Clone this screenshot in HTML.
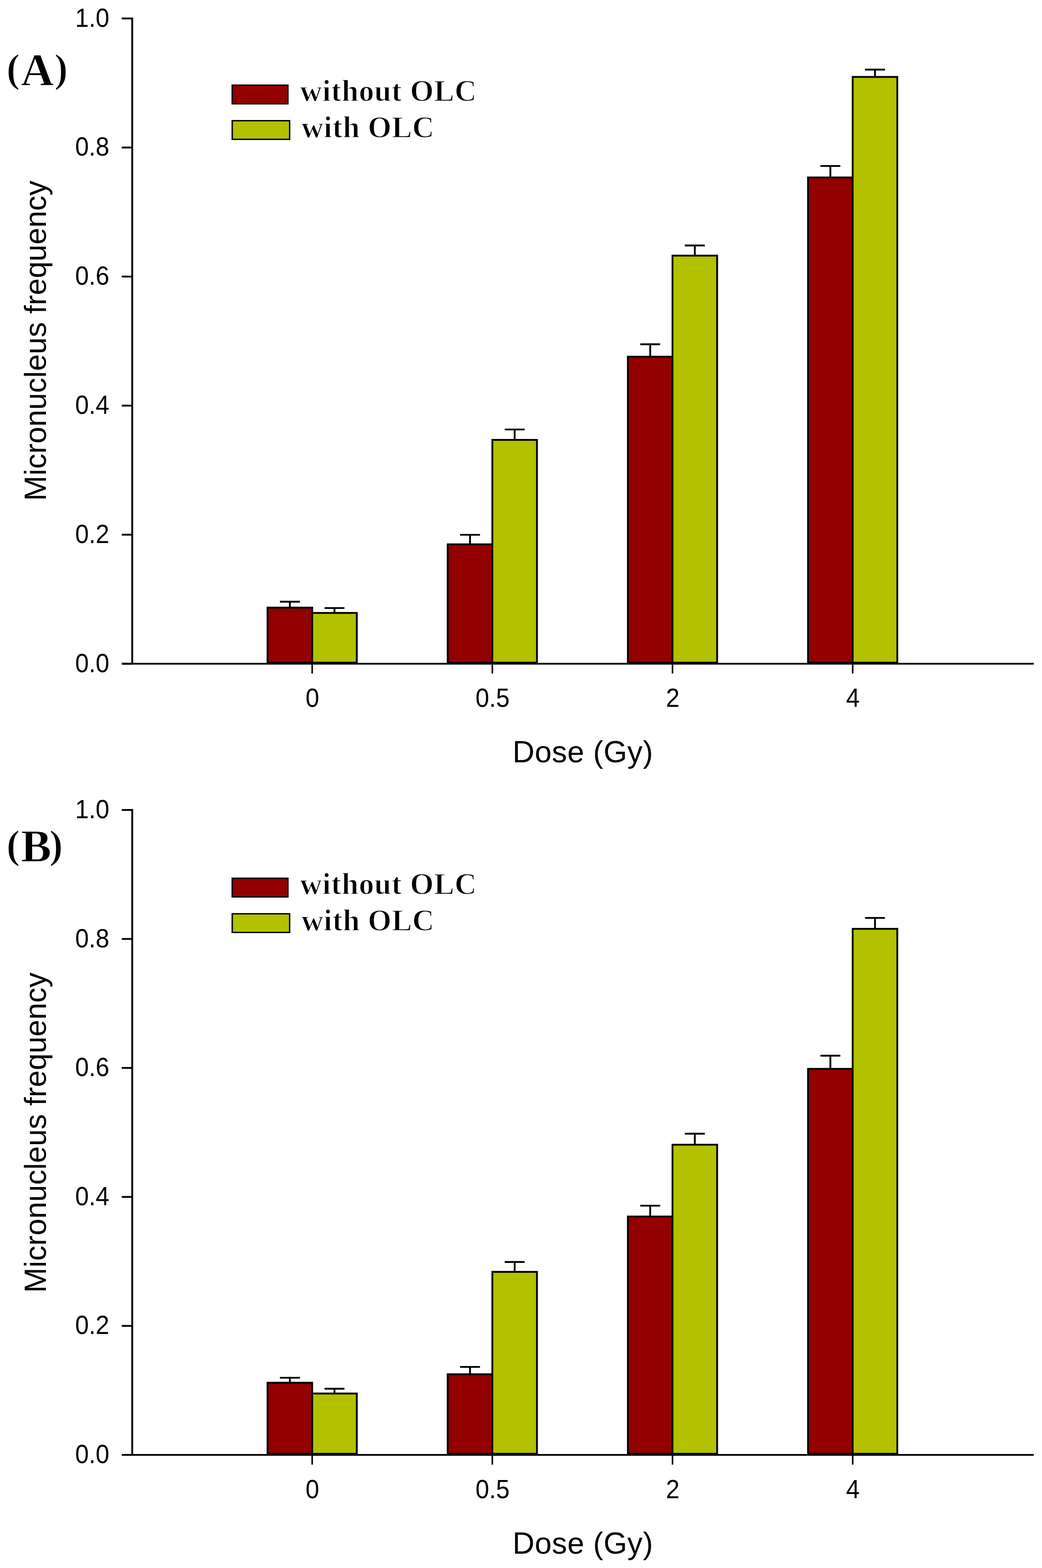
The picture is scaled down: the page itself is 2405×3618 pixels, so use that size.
<!DOCTYPE html>
<html><head><meta charset="utf-8"><title>Micronucleus frequency vs Dose</title>
<style>
html,body{margin:0;padding:0;background:#fff;}
body{width:2405px;height:3618px;overflow:hidden;}
svg{display:block;}
.tk{font-family:"Liberation Sans",Arial,sans-serif;font-size:61px;fill:#000;}
.ax{font-family:"Liberation Sans",Arial,sans-serif;font-size:70px;fill:#000;}
.pl{font-family:"Liberation Serif","Times New Roman",serif;font-weight:bold;font-size:106px;fill:#000;stroke:#fff;stroke-width:1.6px;}
.pp{font-size:93px;}
.lg{font-family:"Liberation Serif","Times New Roman",serif;font-weight:bold;font-size:70px;fill:#000;stroke:#fff;stroke-width:1.6px;}
</style></head>
<body>
<svg width="2405" height="3618" viewBox="0 0 2405 3618">
<rect width="2405" height="3618" fill="#fff"/>
<rect x="617.50" y="1402.00" width="103.00" height="127.00" fill="#920000" stroke="#000" stroke-width="4.2"/>
<rect x="720.50" y="1414.30" width="103.00" height="114.70" fill="#b2c200" stroke="#000" stroke-width="4.2"/>
<rect x="1033.35" y="1256.00" width="103.00" height="273.00" fill="#920000" stroke="#000" stroke-width="4.2"/>
<rect x="1136.35" y="1015.00" width="103.00" height="514.00" fill="#b2c200" stroke="#000" stroke-width="4.2"/>
<rect x="1449.20" y="823.00" width="103.00" height="706.00" fill="#920000" stroke="#000" stroke-width="4.2"/>
<rect x="1552.20" y="589.80" width="103.00" height="939.20" fill="#b2c200" stroke="#000" stroke-width="4.2"/>
<rect x="1865.05" y="409.50" width="103.00" height="1119.50" fill="#920000" stroke="#000" stroke-width="4.2"/>
<rect x="1968.05" y="177.50" width="103.00" height="1351.50" fill="#b2c200" stroke="#000" stroke-width="4.2"/>
<path d="M669.00 1402.00V1388.30M646.00 1388.30H692.00" stroke="#000" stroke-width="4.2" fill="none"/>
<path d="M772.00 1414.30V1403.00M749.00 1403.00H795.00" stroke="#000" stroke-width="4.2" fill="none"/>
<path d="M1084.85 1256.00V1234.00M1061.85 1234.00H1107.85" stroke="#000" stroke-width="4.2" fill="none"/>
<path d="M1187.85 1015.00V991.00M1164.85 991.00H1210.85" stroke="#000" stroke-width="4.2" fill="none"/>
<path d="M1500.70 823.00V794.30M1477.70 794.30H1523.70" stroke="#000" stroke-width="4.2" fill="none"/>
<path d="M1603.70 589.80V566.30M1580.70 566.30H1626.70" stroke="#000" stroke-width="4.2" fill="none"/>
<path d="M1916.55 409.50V383.00M1893.55 383.00H1939.55" stroke="#000" stroke-width="4.2" fill="none"/>
<path d="M2019.55 177.50V160.70M1996.55 160.70H2042.55" stroke="#000" stroke-width="4.2" fill="none"/>
<path d="M305.20 40.50V1533.60M281.00 1531.50H2386.00" stroke="#000" stroke-width="4.2" fill="none"/>
<path d="M281.00 1531.50H305.20" stroke="#000" stroke-width="4.2"/>
<text transform="translate(252.3 1550.60) scale(0.93 1)" text-anchor="end" class="tk">0.0</text>
<path d="M281.00 1233.72H305.20" stroke="#000" stroke-width="4.2"/>
<text transform="translate(252.3 1252.82) scale(0.93 1)" text-anchor="end" class="tk">0.2</text>
<path d="M281.00 935.94H305.20" stroke="#000" stroke-width="4.2"/>
<text transform="translate(252.3 955.04) scale(0.93 1)" text-anchor="end" class="tk">0.4</text>
<path d="M281.00 638.16H305.20" stroke="#000" stroke-width="4.2"/>
<text transform="translate(252.3 657.26) scale(0.93 1)" text-anchor="end" class="tk">0.6</text>
<path d="M281.00 340.38H305.20" stroke="#000" stroke-width="4.2"/>
<text transform="translate(252.3 359.48) scale(0.93 1)" text-anchor="end" class="tk">0.8</text>
<path d="M281.00 42.60H305.20" stroke="#000" stroke-width="4.2"/>
<text transform="translate(252.3 61.70) scale(0.93 1)" text-anchor="end" class="tk">1.0</text>
<path d="M720.50 1531.50V1554.00" stroke="#000" stroke-width="3.6"/>
<text transform="translate(721.00 1631.20) scale(0.93 1)" text-anchor="middle" class="tk">0</text>
<path d="M1136.35 1531.50V1554.00" stroke="#000" stroke-width="3.6"/>
<text transform="translate(1136.85 1631.20) scale(0.93 1)" text-anchor="middle" class="tk">0.5</text>
<path d="M1552.20 1531.50V1554.00" stroke="#000" stroke-width="3.6"/>
<text transform="translate(1552.70 1631.20) scale(0.93 1)" text-anchor="middle" class="tk">2</text>
<path d="M1968.05 1531.50V1554.00" stroke="#000" stroke-width="3.6"/>
<text transform="translate(1968.55 1631.20) scale(0.93 1)" text-anchor="middle" class="tk">4</text>
<text x="1345" y="1759.10" text-anchor="middle" class="ax" textLength="324" lengthAdjust="spacing">Dose (Gy)</text>
<text transform="translate(105.5 786.00) rotate(-90)" text-anchor="middle" class="ax">Micronucleus frequency</text>
<text y="196.90" class="pl"><tspan x="15" dy="-8" class="pp">(</tspan><tspan x="48" dy="8">A</tspan><tspan x="125.5" dy="-8" class="pp">)</tspan></text>
<rect x="536" y="196.50" width="128.5" height="43" fill="#920000" stroke="#000" stroke-width="3.2"/>
<rect x="536" y="278.50" width="132.5" height="43" fill="#b2c200" stroke="#000" stroke-width="3.2"/>
<text x="692.6" y="233.10" class="lg" letter-spacing="0.85">without OLC</text>
<text x="695.8" y="317.20" class="lg" letter-spacing="0.7">with OLC</text>
<rect x="617.50" y="3190.50" width="103.00" height="164.00" fill="#920000" stroke="#000" stroke-width="4.2"/>
<rect x="720.50" y="3215.40" width="103.00" height="139.10" fill="#b2c200" stroke="#000" stroke-width="4.2"/>
<rect x="1033.35" y="3171.00" width="103.00" height="183.50" fill="#920000" stroke="#000" stroke-width="4.2"/>
<rect x="1136.35" y="2934.70" width="103.00" height="419.80" fill="#b2c200" stroke="#000" stroke-width="4.2"/>
<rect x="1449.20" y="2807.00" width="103.00" height="547.50" fill="#920000" stroke="#000" stroke-width="4.2"/>
<rect x="1552.20" y="2641.30" width="103.00" height="713.20" fill="#b2c200" stroke="#000" stroke-width="4.2"/>
<rect x="1865.05" y="2466.30" width="103.00" height="888.20" fill="#920000" stroke="#000" stroke-width="4.2"/>
<rect x="1968.05" y="2143.20" width="103.00" height="1211.30" fill="#b2c200" stroke="#000" stroke-width="4.2"/>
<path d="M669.00 3190.50V3179.00M646.00 3179.00H692.00" stroke="#000" stroke-width="4.2" fill="none"/>
<path d="M772.00 3215.40V3204.30M749.00 3204.30H795.00" stroke="#000" stroke-width="4.2" fill="none"/>
<path d="M1084.85 3171.00V3154.00M1061.85 3154.00H1107.85" stroke="#000" stroke-width="4.2" fill="none"/>
<path d="M1187.85 2934.70V2911.80M1164.85 2911.80H1210.85" stroke="#000" stroke-width="4.2" fill="none"/>
<path d="M1500.70 2807.00V2782.00M1477.70 2782.00H1523.70" stroke="#000" stroke-width="4.2" fill="none"/>
<path d="M1603.70 2641.30V2615.90M1580.70 2615.90H1626.70" stroke="#000" stroke-width="4.2" fill="none"/>
<path d="M1916.55 2466.30V2435.80M1893.55 2435.80H1939.55" stroke="#000" stroke-width="4.2" fill="none"/>
<path d="M2019.55 2143.20V2118.00M1996.55 2118.00H2042.55" stroke="#000" stroke-width="4.2" fill="none"/>
<path d="M305.20 1866.80V3359.10M281.00 3357.00H2386.00" stroke="#000" stroke-width="4.2" fill="none"/>
<path d="M281.00 3357.00H305.20" stroke="#000" stroke-width="4.2"/>
<text transform="translate(252.3 3376.10) scale(0.93 1)" text-anchor="end" class="tk">0.0</text>
<path d="M281.00 3059.38H305.20" stroke="#000" stroke-width="4.2"/>
<text transform="translate(252.3 3078.48) scale(0.93 1)" text-anchor="end" class="tk">0.2</text>
<path d="M281.00 2761.76H305.20" stroke="#000" stroke-width="4.2"/>
<text transform="translate(252.3 2780.86) scale(0.93 1)" text-anchor="end" class="tk">0.4</text>
<path d="M281.00 2464.14H305.20" stroke="#000" stroke-width="4.2"/>
<text transform="translate(252.3 2483.24) scale(0.93 1)" text-anchor="end" class="tk">0.6</text>
<path d="M281.00 2166.52H305.20" stroke="#000" stroke-width="4.2"/>
<text transform="translate(252.3 2185.62) scale(0.93 1)" text-anchor="end" class="tk">0.8</text>
<path d="M281.00 1868.90H305.20" stroke="#000" stroke-width="4.2"/>
<text transform="translate(252.3 1888.00) scale(0.93 1)" text-anchor="end" class="tk">1.0</text>
<path d="M720.50 3357.00V3379.50" stroke="#000" stroke-width="3.6"/>
<text transform="translate(721.00 3456.70) scale(0.93 1)" text-anchor="middle" class="tk">0</text>
<path d="M1136.35 3357.00V3379.50" stroke="#000" stroke-width="3.6"/>
<text transform="translate(1136.85 3456.70) scale(0.93 1)" text-anchor="middle" class="tk">0.5</text>
<path d="M1552.20 3357.00V3379.50" stroke="#000" stroke-width="3.6"/>
<text transform="translate(1552.70 3456.70) scale(0.93 1)" text-anchor="middle" class="tk">2</text>
<path d="M1968.05 3357.00V3379.50" stroke="#000" stroke-width="3.6"/>
<text transform="translate(1968.55 3456.70) scale(0.93 1)" text-anchor="middle" class="tk">4</text>
<text x="1345" y="3584.60" text-anchor="middle" class="ax" textLength="324" lengthAdjust="spacing">Dose (Gy)</text>
<text transform="translate(105.5 2613.40) rotate(-90)" text-anchor="middle" class="ax">Micronucleus frequency</text>
<text y="1988.00" class="pl"><tspan x="15" dy="-8" class="pp">(</tspan><tspan x="48" dy="8">B</tspan><tspan x="114" dy="-8" class="pp">)</tspan></text>
<rect x="536" y="2026.50" width="128.5" height="43" fill="#920000" stroke="#000" stroke-width="3.2"/>
<rect x="536" y="2108.50" width="132.5" height="43" fill="#b2c200" stroke="#000" stroke-width="3.2"/>
<text x="692.6" y="2063.10" class="lg" letter-spacing="0.85">without OLC</text>
<text x="695.8" y="2147.20" class="lg" letter-spacing="0.7">with OLC</text>
</svg>
</body></html>
